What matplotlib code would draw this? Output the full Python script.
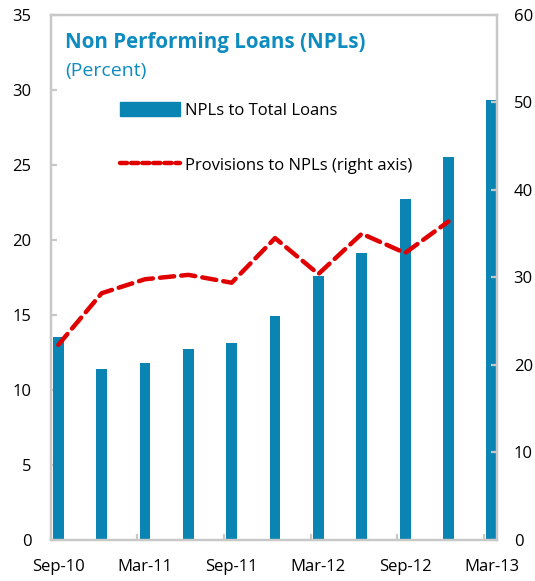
import matplotlib.pyplot as plt
from matplotlib.patches import Patch
from matplotlib.lines import Line2D

plt.rcParams['font.family'] = ['Open Sans', 'DejaVu Sans']

quarters = ['Sep-10', 'Dec-10', 'Mar-11', 'Jun-11', 'Sep-11', 'Dec-11',
            'Mar-12', 'Jun-12', 'Sep-12', 'Dec-12', 'Mar-13']
npl_ratio = [13.5, 11.4, 11.8, 12.7, 13.1, 14.9, 17.6, 19.1, 22.7, 25.5, 29.3]
provisions = [22.3, 28.2, 29.8, 30.3, 29.4, 34.5, 30.4, 35.0, 32.8, 36.4]

blue = '#0A84B2'
red = '#E00000'
grey = '#C8C8C8'
x = list(range(len(quarters)))

fig = plt.figure(figsize=(5.35, 5.81), dpi=100)
ax = fig.add_axes([0.0948, 0.0706, 0.8342, 0.9036])
ax2 = ax.twinx()

ax.bar(x, npl_ratio, width=0.25, color=blue, zorder=2)
ax2.plot(x[:len(provisions)], provisions, color=red, lw=3.2,
         dashes=(3.2, 1.6), dash_capstyle='round', zorder=3)

ax.set_xlim(-0.175, 10.12)
ax.set_ylim(0, 35)
ax2.set_ylim(0, 60)
ax.set_yticks(range(0, 36, 5))
ax2.set_yticks(range(0, 61, 10))
ax.set_xticks(x[::2])
ax.set_xticklabels(quarters[::2])
ax.set_xticks([1.82, 3.82, 5.82, 7.82, 9.82], minor=True)

for a in (ax, ax2):
    for s in a.spines.values():
        s.set_color(grey)
        s.set_linewidth(1.6)
ax.tick_params(axis='y', direction='in', length=4, width=1.6, color=grey,
               labelsize=12, pad=14)
ax2.tick_params(axis='y', direction='in', length=4, width=1.6, color=grey,
                labelsize=12, pad=12)
ax.tick_params(axis='x', which='major', length=0, labelsize=12, pad=14)
ax.tick_params(axis='x', which='minor', direction='in', length=4, width=1.6,
               color=grey)

fig.text(0.1215, 0.927, 'Non Performing Loans (NPLs)', color='#0E8CBF',
         fontsize=14.8, fontweight='bold', va='center')
fig.text(0.1215, 0.877, '(Percent)', color='#0E8CBF', fontsize=14, va='center')

handles = [Patch(facecolor=blue, edgecolor=blue),
           Line2D([], [], color=red, lw=3.2, dashes=(1.6, 0.9),
                  dash_capstyle='round')]
labels = ['NPLs to Total Loans', 'Provisions to NPLs (right axis)']
fig.legend(handles, labels, loc='center left', bbox_to_anchor=(0.224, 0.7625),
           frameon=False, fontsize=12, handlelength=3.6, handleheight=0.9,
           handletextpad=0.3, labelspacing=2.3, borderpad=0, borderaxespad=0)

fig.savefig('out.png', dpi=100)
